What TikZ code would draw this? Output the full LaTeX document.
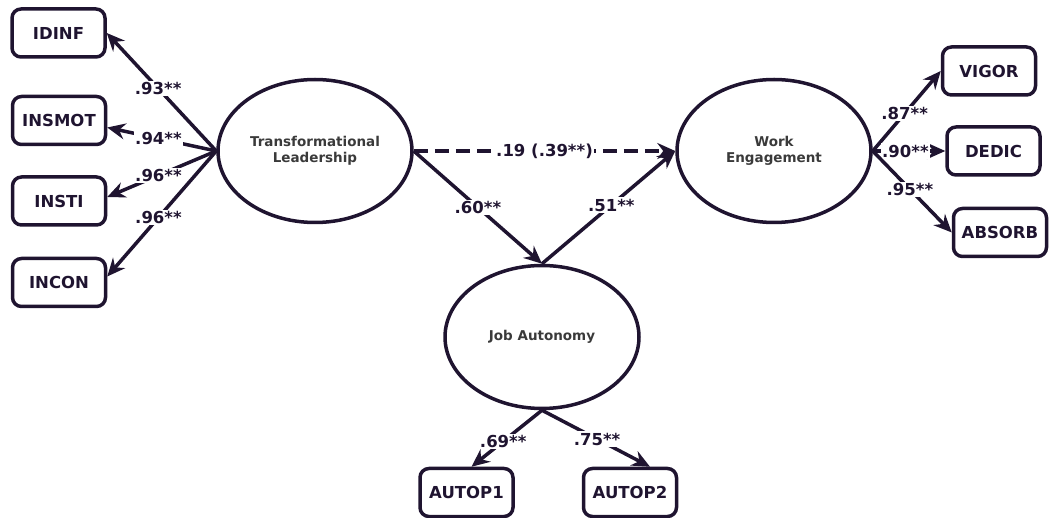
\documentclass[tikz,border=0pt]{standalone}
\usepackage{fontspec}
\setmainfont{DejaVu Sans}
\usetikzlibrary{shapes.geometric,arrows.meta}
\definecolor{ink}{HTML}{1F1430}
\definecolor{latent}{HTML}{3A3A3A}
\begin{document}
\begin{tikzpicture}[x=1pt,y=-1pt,
    obs/.style={draw=ink,line width=3.5pt,rounded corners=9pt,minimum width=93pt,minimum height=48pt,font=\fontsize{16.5}{18}\selectfont\bfseries,text=ink},
    lat/.style={draw=ink,line width=3.5pt,ellipse,minimum width=194pt,minimum height=143pt,font=\fontsize{13.5}{16}\selectfont\bfseries,text=latent,align=center},
    path/.style={draw=ink,line width=3.5pt,-{Stealth[length=18pt,width=16pt,inset=6pt]}},
    coef/.style={fill=white,font=\fontsize{16.5}{18}\selectfont\bfseries,text=ink,inner sep=1.5pt}]
      \useasboundingbox (0,0) rectangle (1050,518);
      % latent variables
      \node[lat] (TL) at (315,151) {Transformational\\Leadership};
      \node[lat] (WE) at (774,151) {Work\\Engagement};
      \node[lat] (JA) at (542,337) {Job Autonomy};
      % indicators
      \node[obs] (IDINF) at (58.5,33) {IDINF};
      \node[obs] (INSMOT) at (59,120.5) {INSMOT};
      \node[obs] (INSTI) at (59,201) {INSTI};
      \node[obs] (INCON) at (59,282.5) {INCON};
      \node[obs] (VIGOR) at (989,71) {VIGOR};
      \node[obs] (DEDIC) at (993.5,151) {DEDIC};
      \node[obs] (ABSORB) at (1000,232.5) {ABSORB};
      \node[obs] (AUTOP1) at (466.5,492.5) {AUTOP1};
      \node[obs] (AUTOP2) at (630,492.5) {AUTOP2};
      % loadings
      \draw[path] (TL.west) -- (IDINF.east) node[coef,pos=0.53] {.93**};
      \draw[path] (TL.west) -- ([yshift=-7pt]INSMOT.east) node[coef,pos=0.53] {.94**};
      \draw[path] (TL.west) -- ([yshift=4pt]INSTI.east) node[coef,pos=0.53] {.96**};
      \draw[path] (TL.west) -- ([yshift=6pt]INCON.east) node[coef,pos=0.53] {.96**};
      \draw[path] (WE.east) -- (VIGOR.west) node[coef,pos=0.47] {.87**};
      \draw[path] (WE.east) -- (DEDIC.west) node[coef,pos=0.45] {.90**};
      \draw[path] (WE.east) -- (ABSORB.west) node[coef,pos=0.47] {.95**};
      \draw[path] (JA.south) -- ([xshift=5pt]AUTOP1.north) node[coef,pos=0.55] {.69**};
      \draw[path] (JA.south) -- ([xshift=20pt]AUTOP2.north) node[coef,pos=0.51] {.75**};
      % structural paths
      \draw[path,dash pattern=on 14pt off 7pt] (TL.east) -- (WE.west) node[coef,pos=0.5] {.19 (.39**)};
      \draw[path] (TL.east) -- (JA.north) node[coef,pos=0.5] {.60**};
      \draw[path] (JA.north) -- (WE.west) node[coef,pos=0.52] {.51**};
\end{tikzpicture}
\end{document}
